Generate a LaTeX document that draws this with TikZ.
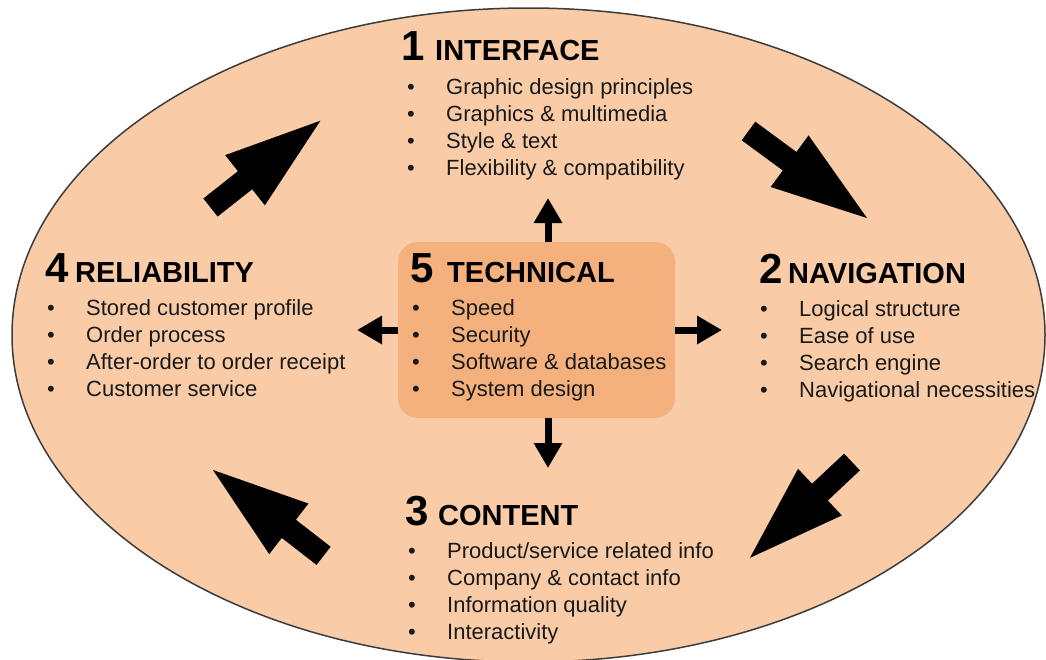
\documentclass[tikz,border=0pt]{standalone}
\usepackage{fontspec}
\setmainfont{Liberation Sans}
\usetikzlibrary{arrows.meta}
\definecolor{peach}{RGB}{249,204,167}
\definecolor{boxor}{RGB}{245,177,125}
\definecolor{rim}{RGB}{60,60,60}
\newcommand\blockarrow[4]{%
  \begin{scope}[shift={(#1,#2)},rotate=#3]
    \fill[black] (0,11.5) -- ({#4-96},11.5) -- ({#4-96},32) -- (#4,0)
      -- ({#4-96},-32) -- ({#4-96},-11.5) -- (0,-11.5) -- cycle;
  \end{scope}}
\newcommand\itemlist[4]{%
  \foreach \t [count=\i] in {#4}
    \node[item] (#1\i) at (#2,{-#3-27.3*(\i-1)}) {\makebox[39pt][l]{\textbullet}\t};}
\begin{document}
\begin{tikzpicture}[x=1pt,y=1pt,
  item/.style={anchor=base west, inner sep=0pt, font=\fontsize{22}{26}\selectfont, text=black!90},
  head/.style={anchor=base west, inner sep=0pt, font=\fontsize{29}{34}\selectfont\bfseries},
  num/.style={anchor=base east, inner sep=0pt, font=\fontsize{42}{46}\selectfont\bfseries},
  small/.style={line width=7pt, -{Triangle[width=27pt,length=25pt]}}]
\useasboundingbox (0,0) rectangle (1046,-659);
\fill[white] (0,0) rectangle (1046,-659);
\draw[rim, line width=1.5pt, fill=peach] (528.5,-335) ellipse [x radius=516.5, y radius=327];

% centre box
\node[fill=boxor, rounded corners=20pt, minimum width=277pt, minimum height=176pt, inner sep=0pt] (box) at (536.5,-330) {};

% big block arrows
\blockarrow{210.5}{-207.5}{38.3}{140}
\blockarrow{748.5}{-131}{-36.3}{147}
\blockarrow{852}{-462}{223.2}{140}
\blockarrow{323.6}{-555.8}{142.2}{140}

% small arrows out of the box
\coordinate (tu) at (548,-198);
\coordinate (td) at (548,-468);
\coordinate (tl) at (357,-330);
\coordinate (tr) at (722,-330);
\draw[small] (box.north -| tu) -- (tu);
\draw[small] (box.south -| td) -- (td);
\draw[small] (box.west) -- (tl);
\draw[small] (box.east) -- (tr);

% 1 Interface
\node[head] (hint) at (435,-60) {INTERFACE};
\node[num] (nint) at (425,-60) {1};
\itemlist{int}{407}{94}{Graphic design principles, Graphics \& multimedia, Style \& text, Flexibility \& compatibility}

% 2 Navigation
\node[head] (hnav) at (788,-283) {NAVIGATION};
\node[num] (nnav) at (783,-283) {2};
\itemlist{nav}{760}{316}{Logical structure, Ease of use, Search engine, Navigational necessities}

% 4 Reliability
\node[head] (hrel) at (75,-282) {RELIABILITY};
\node[num] (nrel) at (69,-282) {4};
\itemlist{rel}{47}{315}{Stored customer profile, Order process, After-order to order receipt, Customer service}

% 5 Technical
\node[head] (htec) at (447,-282) {TECHNICAL};
\node[num] (ntec) at (434,-282) {5};
\itemlist{tec}{412}{315}{Speed, Security, Software \& databases, System design}

% 3 Content
\node[head] (hcon) at (438,-525) {CONTENT};
\node[num] (ncon) at (429,-525) {3};
\itemlist{con}{408}{558}{Product/service related info, Company \& contact info, Information quality, Interactivity}
\end{tikzpicture}
\end{document}
